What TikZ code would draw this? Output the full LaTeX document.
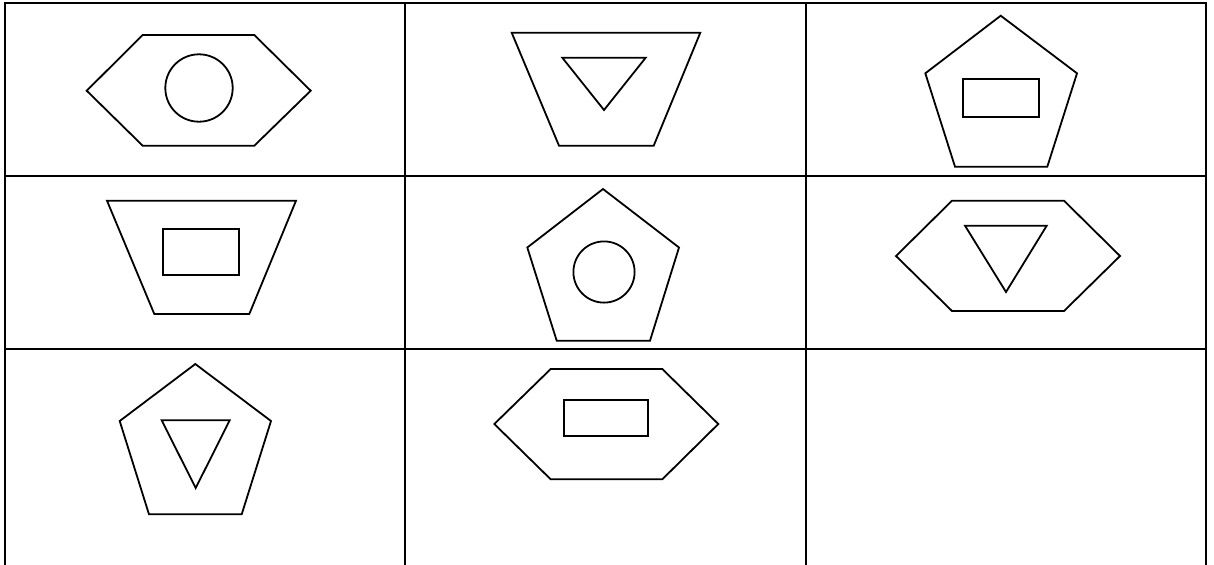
\documentclass[tikz,border=0pt]{standalone}
\begin{document}
\begin{tikzpicture}[x=0.5pt,y=-0.5pt,
  gridline/.style={line width=1.2pt,line cap=rect},
  shp/.style={line width=0.9pt,line join=miter}]
\useasboundingbox (0,0) rectangle (1214,564);
\fill[white] (0,0) rectangle (1214,564);
% grid
\foreach \x in {5,405,806,1206} \draw[gridline] (\x,3) -- (\x,566);
\foreach \y in {3,176,349} \draw[gridline] (5,\y) -- (1206,\y);
% cell 1: hexagon + circle
\draw[shp] (142.7,35) -- (254.3,35) -- (310.7,90.7) -- (254.3,145.7) -- (142.7,145.7) -- (86.7,90.7) -- cycle;
\draw[shp] (199,88) circle[radius=16.85pt];
% cell 2: trapezoid + triangle
\draw[shp] (511.7,32.7) -- (700.3,32.7) -- (653.7,145.7) -- (559,145.7) -- cycle;
\draw[shp] (562.3,57.7) -- (645.7,57.7) -- (604,110) -- cycle;
% cell 3: pentagon + rectangle
\draw[shp] (1000.7,15.7) -- (1077,73.3) -- (1047.3,166.7) -- (955,166.7) -- (925.3,73.3) -- cycle;
\draw[shp] (963,79) rectangle (1039,117);
% cell 4: trapezoid + rectangle
\draw[shp] (107,200.7) -- (296,200.7) -- (249.3,314) -- (154.3,314) -- cycle;
\draw[shp] (162.7,229.3) rectangle (238.7,275.3);
% cell 5: pentagon + circle
\draw[shp] (603,189) -- (679,247.5) -- (650,340.7) -- (556.7,340.7) -- (527.3,247.5) -- cycle;
\draw[shp] (604,272) circle[radius=15.3pt];
% cell 6: hexagon + triangle
\draw[shp] (952,200.7) -- (1064,200.7) -- (1120,256) -- (1064,311) -- (952,311) -- (896,256) -- cycle;
\draw[shp] (965,225.7) -- (1046.7,225.7) -- (1006,292) -- cycle;
% cell 7: pentagon + triangle
\draw[shp] (195.3,364) -- (271,421) -- (241.7,514.3) -- (149,514.3) -- (119.7,421) -- cycle;
\draw[shp] (161.7,420.3) -- (229.7,420.3) -- (195.7,488) -- cycle;
% cell 8: hexagon + rectangle
\draw[shp] (550.7,369) -- (662.3,369) -- (718.3,424) -- (662.3,479.3) -- (550.7,479.3) -- (494.3,424) -- cycle;
\draw[shp] (564,400) rectangle (648.3,435.7);
\end{tikzpicture}
\end{document}
